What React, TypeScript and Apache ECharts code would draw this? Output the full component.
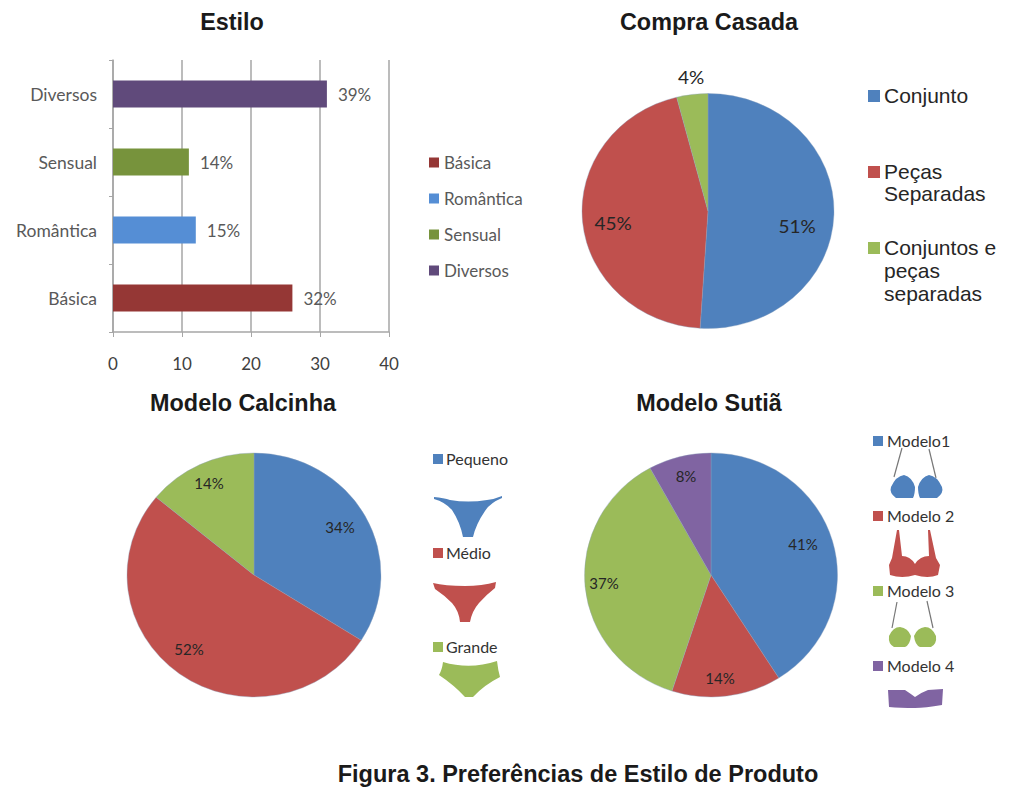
import React, { useEffect, useRef } from "react";
import * as echarts from "echarts";

const styleCategories = ["Básica", "Romântica", "Sensual", "Diversos"];
const styleValues = [26, 12, 11, 31];
const styleLabels = ["32%", "15%", "14%", "39%"];
const styleColors = ["#953735", "#558ed5", "#77933c", "#604a7b"];
const xTicks = [0, 10, 20, 30, 40];

const compraNames = ["Conjunto", "Peças Separadas", "Conjuntos e peças separadas"];
const compraValues = [51, 45, 4];
const calcinhaNames = ["Pequeno", "Médio", "Grande"];
const calcinhaValues = [34, 52, 14];
const sutiaNames = ["Modelo1", "Modelo 2", "Modelo 3", "Modelo 4"];
const sutiaValues = [41, 14, 37, 8];
const pieColors = ["#4f81bd", "#c0504d", "#9bbb59", "#8064a2"];

const titles = ["Estilo", "Compra Casada", "Modelo Calcinha", "Modelo Sutiã"];
const caption = "Figura 3. Preferências de Estilo de Produto";
const compraLegendLines = [["Conjunto"], ["Peças", "Separadas"], ["Conjuntos e", "peças", "separadas"]];

const iconPaths: Record<string, [string, string]> = {
  panty1: ["#4f81bd", "M434 497 Q444 498 450 500 Q468 503 487 500 Q495 499 502 496 L502 498 Q490 503 485 511 Q476 524 473 537 L463 537 Q460 522 452 510 Q445 502 434 499 Z"],
  panty2: ["#c0504d", "M433 583 Q445 586 465 586 Q482 586 496 582 L495 588 Q486 595 479 603 Q472 611 470 622 L460 622 Q459 611 452 603 Q444 595 435 589 Z"],
  panty3: ["#9bbb59", "M443 662 Q470 670 497 661 Q498 670 500 677 Q484 685 473 697 L465 697 Q454 685 439 675 Q442 670 443 662 Z"],
  bra1: ["#4f81bd", "M891 487 Q896 476 904 475 Q912 477 915 487 Q915 494 913 498 L896 498 Q889 493 891 487 Z M942 487 Q937 476 929 475 Q921 477 918 487 Q918 494 920 498 L937 498 Q944 493 942 487 Z"],
  bra2: ["#c0504d", "M897 530 L892 558 L889 565 L890 575 Q902 579 915 575 Q928 579 938 575 L940 565 L936 558 L930 530 L928 530 L929 556 Q920 556 915 564 Q910 556 902 556 L899 530 Z"],
  bra3: ["#9bbb59", "M889 636 Q893 627 900 627 Q908 628 911 636 Q910 645 905 647 L894 647 Q888 644 889 636 Z M936 636 Q932 627 925 627 Q917 628 914 636 Q915 645 920 647 L931 647 Q937 644 936 636 Z"],
  bra4: ["#8064a2", "M888 690 L905 690 Q911 694 915 697 Q920 693 928 690 L943 689 L942 705 Q925 708 915 708 Q900 708 889 707 Z"],
};
const strapLines = [
  [902, 448, 894, 477], [929, 449, 936, 478],
  [897, 602, 892, 628], [927, 601, 933, 628],
];
Object.keys(iconPaths).forEach((k) => {
  echarts.graphic.registerShape(k, echarts.graphic.extendPath(iconPaths[k][1], {}) as any);
});

const ARIAL = '"Liberation Sans", Arial, sans-serif';
const CAL = 'Lato, sans-serif';

function txt(x: number, y: number, text: string, fs: number, font: string, fill: string, bold = false, align = "left") {
  return { type: "text", x, y, silent: true, style: { text, fontSize: fs, fontFamily: font, fontWeight: bold ? "bold" : "normal", fill, align, verticalAlign: "middle" } };
}
function sq(x: number, y: number, s: number, fill: string) {
  return { type: "rect", x, y, silent: true, shape: { x: 0, y: 0, width: s, height: s }, style: { fill } };
}

const pies = [
  { values: compraValues, names: compraNames, cx: 708, cy: 211, rx: 126, ry: 117.5, fs: 19, lx: [797, 613, 691], ly: [226, 223, 77] },
  { values: calcinhaValues, names: calcinhaNames, cx: 254, cy: 575, rx: 127, ry: 122, fs: 15, lx: [340, 189, 209], ly: [527, 649, 483] },
  { values: sutiaValues, names: sutiaNames, cx: 711, cy: 575, rx: 126.5, ry: 122, fs: 15, lx: [803, 720, 604, 686], ly: [544, 678, 583, 476] },
];
const BOX = 340;

export default function App() {
  const mainRef = useRef<HTMLDivElement>(null);
  const p0 = useRef<HTMLDivElement>(null);
  const p1 = useRef<HTMLDivElement>(null);
  const p2 = useRef<HTMLDivElement>(null);

  useEffect(() => {
    const main = echarts.init(mainRef.current!, null, { renderer: "svg" });
    const graphics: any[] = [
      txt(232, 22, titles[0], 23.4, ARIAL, "#1a1a1a", true, "center"),
      txt(709, 22, titles[1], 23.4, ARIAL, "#1a1a1a", true, "center"),
      txt(243, 403, titles[2], 23.4, ARIAL, "#1a1a1a", true, "center"),
      txt(709, 403, titles[3], 23.4, ARIAL, "#1a1a1a", true, "center"),
      txt(578, 774, caption, 23.5, ARIAL, "#1a1a1a", true, "center"),
    ];
    const compraLineY = [[96], [172, 194], [248, 271, 294]];
    compraLegendLines.forEach((lines, i) => {
      graphics.push(sq(868, compraLineY[i][0] - 6, 12, pieColors[i]));
      lines.forEach((l, j) => graphics.push(txt(884, compraLineY[i][j] - 1, l, 21, ARIAL, "#262626")));
    });
    [459, 553, 647].forEach((y, i) => {
      graphics.push(sq(433, y - 5, 10, pieColors[i]));
      graphics.push(txt(446, y - 1, calcinhaNames[i], 16, CAL, "#333"));
    });
    [441, 516, 591, 666].forEach((y, i) => {
      graphics.push(sq(873, y - 5, 10, pieColors[i]));
      graphics.push(txt(887, y - 1, sutiaNames[i], 16, CAL, "#333"));
    });
    Object.keys(iconPaths).forEach((k) => {
      graphics.push({ type: k, x: 0, y: 0, silent: true, style: { fill: iconPaths[k][0] } });
    });
    strapLines.forEach(([x1, y1, x2, y2]) => {
      graphics.push({ type: "line", silent: true, shape: { x1, y1, x2, y2 }, style: { stroke: "#777", lineWidth: 1.2 } });
    });

    main.setOption({
      animation: false,
      backgroundColor: "#ffffff",
      grid: { left: 113, top: 60, width: 276, height: 272, containLabel: false },
      legend: {
        orient: "vertical", left: 424, top: 149, itemWidth: 10, itemHeight: 10, itemGap: 19,
        icon: "rect", selectedMode: false, data: styleCategories,
        textStyle: { fontFamily: CAL, fontSize: 17, color: "#595959" },
      },
      xAxis: {
        type: "value", min: 0, max: 40, interval: 10,
        axisLine: { show: true, lineStyle: { color: "#a6a6a6", width: 1.5 } },
        axisTick: { show: true, length: 5, lineStyle: { color: "#a6a6a6" } },
        axisLabel: { fontFamily: CAL, fontSize: 17, color: "#404040", margin: 23, formatter: (v: number) => (xTicks.includes(v) ? String(v) : "") },
        splitLine: { show: true, lineStyle: { color: "#a6a6a6", width: 1.5 } },
      },
      yAxis: {
        type: "category", data: styleCategories,
        axisLine: { show: true, lineStyle: { color: "#a6a6a6", width: 1.5 } },
        axisTick: { show: true, length: 4, lineStyle: { color: "#a6a6a6" } },
        axisLabel: { fontFamily: CAL, fontSize: 17.5, color: "#595959", margin: 16 },
      },
      series: styleCategories.map((name, i) => ({
        name, type: "bar", stack: "s", barWidth: 27, silent: true,
        itemStyle: { color: styleColors[i] },
        data: styleCategories.map((_, j) => (j === i ? styleValues[i] : null)),
        label: {
          show: true, position: "right", distance: 11, fontFamily: CAL, fontSize: 17, color: "#595959",
          formatter: () => styleLabels[i],
        },
      })),
      graphic: graphics,
    });

    const refs = [p0, p1, p2];
    const charts = pies.map((p, idx) => {
      const c = echarts.init(refs[idx].current!, null, { renderer: "svg" });
      const k = p.ry / p.rx;
      c.setOption({
        animation: false,
        series: [{
          type: "pie", center: [BOX / 2, BOX / 2], radius: p.rx, startAngle: 90, clockwise: true, silent: true,
          color: pieColors,
          data: p.values.map((value, i) => ({ value, name: p.names[i] })),
          label: { show: true, position: "inside", formatter: "{c}%", fontFamily: CAL, fontSize: p.fs, color: "#262626" },
          labelLine: { show: false },
          labelLayout: (params: any) => ({
            x: BOX / 2 + (p.lx[params.dataIndex] - p.cx),
            y: BOX / 2 + (p.ly[params.dataIndex] - p.cy) / k,
            align: "center", verticalAlign: "middle",
          }),
          itemStyle: { borderColor: "#8aa0bd", borderWidth: 0.4 },
        }],
      });
      return c;
    });
    return () => { main.dispose(); charts.forEach((c) => c.dispose()); };
  }, []);

  const pieBox = (i: number): React.CSSProperties => ({
    position: "absolute", width: BOX, height: BOX,
    left: pies[i].cx - BOX / 2, top: pies[i].cy - BOX / 2,
    transform: `scaleY(${pies[i].ry / pies[i].rx})`,
  });

  return (
    <div style={{ position: "absolute", left: 0, top: 0, width: 1024, height: 801, overflow: "hidden", background: "#fff" }}>
      <div ref={mainRef} style={{ position: "absolute", left: 0, top: 0, width: 1024, height: 801 }} />
      <div ref={p0} style={pieBox(0)} />
      <div ref={p1} style={pieBox(1)} />
      <div ref={p2} style={pieBox(2)} />
    </div>
  );
}
